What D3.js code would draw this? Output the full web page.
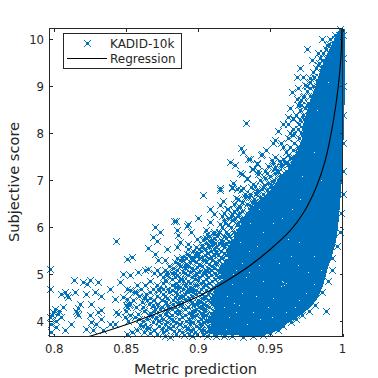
<!DOCTYPE html>
<html><head><meta charset="utf-8">
<script src="https://cdnjs.cloudflare.com/ajax/libs/d3/7.8.5/d3.min.js"></script>
<style>html,body{margin:0;padding:0;background:#fff}svg{display:block}text{font-family:"DejaVu Sans",sans-serif;fill:#262626}</style>
</head><body><svg id="c" width="378" height="378"></svg>
<script>
// Values. The reference has about 10k overlapping markers; individually
// readable ones are estimated and listed, the part where they merge into solid colour is an
// outline (denseOutline) with the small gaps visible inside it (denseGaps).
const xTicks=[0.8,0.85,0.9,0.95,1];
const yTicks=[4,5,6,7,8,9,10];
const seriesName="KADID-10k", fitName="Regression";
const denseOutline=[[.9984,10.23],[.9949,10.04],[.9894,9.70],[.9845,9.34],[.9810,8.98],[.9768,8.64],[.9734,8.28],[.9720,7.91],[.9692,7.64],[.9616,7.21],[.9498,6.79],[.9350,6.36],[.927,5.94],[.9235,5.7],[.919,5.51],[.921,5.3],[.914,5.09],[.917,4.9],[.9115,4.66],[.9085,4.45],[.912,4.23],[.906,4.05],[.91,3.9],[.905,3.76],[.913,3.72],[.9290,3.7],[.9442,3.7],[.9532,3.78],[.9588,3.9],[.9651,4.02],[.9727,4.17],[.979,4.34],[.9831,4.51],[.9866,4.77],[.9894,5.09],[.9928,5.40],[.9956,5.72],[.997,6.02],[.9991,6.79],[1.0005,7.64],[1.0015,8.7],[1.0015,10.23]];
const denseGaps=[[.9588,4.83],[.9578,4.85],[.9595,4.78],[.9570,4.75],[.9610,4.82],[.9420,5.2],[.9350,5.05],[.9300,4.6],[.9250,4.4],[.9400,4.55],[.9480,4.3],[.9520,4.5],[.9445,4.85],[.9330,4.95],[.9280,4.35],[.9380,4.2],[.9430,4.05],[.9510,4.1],[.9610,4.2],[.9670,4.3],[.9700,4.45],[.9750,4.6],[.9800,4.8],[.9760,5.05],[.9690,5.2],[.9640,5.4],[.9560,5.25],[.9700,5.7],[.9800,5.4],[.9850,5.1],[.9620,5.75],[.9520,6.1],[.9580,6.2],[.9650,6.4],[.9705,6.6],[.9720,7.1],[.9800,7.6],[.9765,7.95],[.9825,8.5],[.9900,9.1],[.9850,7.0],[.9700,6.2],[.9450,5.9],[.9410,5.6],[.9350,5.5],[.9300,5.25],[.9260,5.1],[.9230,4.8],[.9210,4.1],[.9340,3.95],[.9180,4.3],[.9200,4.55],[.9150,4.0],[.9260,4.2],[.9190,3.85],[.9240,5.0],[.9290,5.7],[.9360,6.1],[.9420,6.4]];
const sparseLow=[[.8137,4.89],[.8245,4.89],[.8303,4.84],[.8199,4.84],[.8229,4.80],[.8477,5.0],[.8454,4.84],[.8072,4.62],[.8049,4.59],[.8095,4.53],[.7968,5.12],[.7968,4.69],[.8326,4.55],[.8419,4.48],[.8222,4.59],[.8176,4.38],[.8257,4.38],[.8153,4.23],[.8164,4.13],[.85,4.34],[.85,4.23],[.7991,4.2],[.8025,4.16],[.7968,4.09],[.8014,4.02],[.8049,4.09],[.8303,4.2],[.8245,4.13],[.8257,3.99],[.8118,3.95],[.8072,3.81],[.7979,3.95],[.7979,3.77],[.8222,3.84],[.8292,3.95],[.8326,4.06],[.8384,3.95],[.8442,4.16],[.8419,3.95],[.8488,4.09],[.8269,3.81],[.8338,3.81],[.8477,4.52],[.8431,4.2],[.806,4.3],[.8002,4.27],[.8155,4.17],[.8165,4.28],[.8322,4.24],[.7985,4.13],[.8035,4.22],[.8010,3.88],[.8085,4.57],[.8145,4.62],[.8385,4.7],[.8285,4.62]];
const sparseMid=[[.8831,6.13],[.8842,6.13],[.8931,6.08],[.8919,6.04],[.8996,6.19],[.8699,6.01],[.8734,5.9],[.8688,5.79],[.8711,5.71],[.8648,5.57],[.8861,5.83],[.885,5.58],[.878,5.55],[.8873,5.69],[.8931,5.65],[.8989,5.76],[.8699,5.44],[.8537,5.38],[.8503,5.33],[.8653,5.12],[.863,5.1],[.8769,5.3],[.8722,5.3],[.8584,5.05],[.8526,4.98],[.8734,5.0],[.878,4.98],[.8873,5.3],[.8919,5.44],[.8989,5.44],[.9023,5.58],[.8954,5.3],[.8908,5.19],[.9035,5.3],[.8873,4.91],[.8977,4.98],[.8503,4.7],[.8526,4.66],[.863,4.77],[.8722,4.7],[.8792,4.7],[.885,4.73],[.863,4.52],[.8641,4.45],[.8931,4.7],[.8991,4.77],[.8503,4.31],[.8584,4.16],[.856,4.09],[.87,4.27],[.8769,4.16],[.8792,4.3],[.8861,4.38],[.8942,4.45],[.9023,4.59],[.8641,3.88],[.8722,4.02],[.8792,3.88],[.8919,3.84],[.8989,3.74],[.8803,3.67],[.8954,4.16],[.9035,4.16],[.8885,4.09],[.8514,4.02],[.8595,3.92],[.8537,3.77],[.843,5.71],[.8625,4.5],[.8635,4.58],[.8610,4.42],[.8505,4.48],[.8520,4.35],[.8555,4.62],[.8765,4.88],[.8840,5.02],[.8895,4.85],[.8960,4.62],[.9000,4.88],[.8990,5.15],[.9045,5.02],[.8930,5.55],[.9010,5.2],[.9045,4.78],[.8835,4.52],[.8890,4.55],[.8925,4.3],[.9,4.4],[.9045,4.5],[.8840,4.2],[.8815,4.05],[.8870,3.95],[.8945,4.02],[.9010,3.95],[.9050,4.02],[.9020,4.28],[.8975,4.22],[.8905,4.48],[.8680,4.12],[.8745,3.85],[.8830,3.8],[.8960,3.85],[.9040,3.82],[.8665,3.75],[.8900,3.72],[.9060,3.7],[.9000,5.42],[.9060,5.45],[.9070,5.62],[.9040,5.75],[.8950,5.9],[.9050,5.95],[.9100,5.7],[.9110,5.85],[.9120,5.5],[.8855,5.95]];
const sparseHigh=[[.922,7.39],[.9255,7.32],[.9313,7.6],[.9359,7.46],[.9405,7.35],[.944,7.57],[.951,7.43],[.9301,7.14],[.9382,7.25],[.9417,7.14],[.9463,7.21],[.9533,7.28],[.9336,7.03],[.9382,6.93],[.9232,6.86],[.9267,6.82],[.9151,6.79],[.9035,6.68],[.9325,6.72],[.9348,6.65],[.944,6.82],[.951,6.98],[.9556,7.03],[.9174,6.57],[.9081,6.4],[.9151,6.47],[.929,6.43],[.944,6.61],[.9105,6.29],[.9162,6.25],[.9232,6.29],[.9359,6.4],[.9081,6.11],[.9151,6.08],[.9243,6.15],[.9058,5.87],[.9329,8.22],[.9294,7.69],[.9345,7.45],[.9433,7.55],[.947,7.64],[.9517,7.79],[.9533,7.85],[.9554,8.06],[.9589,8.19],[.9623,8.34],[.9637,8.53],[.9685,8.74],[.965,8.87],[.9685,9.19],[.9727,9.19],[.9706,9.38],[.9789,9.55],[.9831,9.7],[.9755,9.79],[.9859,10.0],[.9894,9.87],[.9984,10.22],[.9637,8.0],[.9658,7.96],[.9692,8.1],[.9658,8.32],[.9706,8.28],[.9741,8.53],[.9692,8.6],[.9762,8.64],[.9727,8.77],[.9741,9.02],[.9776,8.96],[.9692,8.96],[.9797,9.3],[.9776,9.17],[.9831,9.45],[.9866,9.55],[.9637,7.47],[.9658,7.64],[.9692,7.7],[.9589,7.7],[.9568,7.42],[.9603,7.36],[.9554,7.17],[.9519,7.36],[.9623,7.15],[.9477,7.15],[.9415,7.21],[.941,7.36],[.9373,7.25],[.9338,7.06],[.929,7.15],[.924,6.94],[.9233,6.83],[.915,6.83],[.9394,6.89],[.931,6.83],[.9498,6.85],[.9554,7.0],[.93,6.55],[.925,6.5],[.92,6.4],[.918,6.15],[.926,6.62],[.94,6.72],[.937,6.55]];
const edgeLow=[[.9885,4.22],[.981,4.35],[.977,4.22],[.972,4.13],[.968,4.05],[.964,3.98],[.959,3.9],[.9555,3.82],[.95,3.76],[.945,3.72],[.938,3.7],[.931,3.68],[.923,3.7],[.986,4.62],[.99,4.85],[.9925,5.1],[.993,5.35],[.996,5.6],[.9985,5.9],[.999,6.3],[1,6.7],[1,7.2],[1,7.8],[1,8.4],[1,9],[1,9.6],[1,10.1]];
const mottledRows=[[5.9,[.9105,.9145,.919,.9245,.928,.934,.939]],[5.82,[.9075,.913,.9175,.9215,.9265,.931,.9365,.9415]],[5.74,[.9035,.909,.916,.9235,.9295,.935]],[5.66,[.9055,.9115,.9145,.9195,.9255,.9335,.9225]],[5.58,[.8985,.9075,.9125,.918,.9215,.9275,.931]],[5.5,[.8965,.9015,.9085,.9155,.9235,.9295]],[5.42,[.8935,.8975,.9045,.9105,.9135,.9195,.9245]],[5.34,[.8855,.8915,.9005,.9075,.9165,.9215,.9255]],[5.26,[.8835,.8945,.8985,.9055,.9115,.9185,.9235]],[5.18,[.8795,.8875,.8925,.9025,.9095,.9155,.9215]],[5.1,[.8715,.8765,.8855,.8965,.9045,.9085,.9135,.9195]],[5.02,[.8695,.8815,.8905,.8985,.9035,.9115,.9175]],[4.94,[.8755,.8835,.8955,.9005,.9065,.9135,.9155]],[4.86,[.8665,.8775,.8865,.8925,.9035,.9095,.9165]],[4.78,[.8575,.8715,.8815,.8905,.8975,.9055,.9125]],[4.7,[.8605,.8685,.8755,.8895,.8965,.9015,.9085,.9145]],[4.62,[.8565,.8665,.8795,.8845,.8925,.9005,.9075,.9125]],[4.54,[.8585,.8715,.8765,.8875,.8955,.9045,.9105]],[4.46,[.8545,.8695,.8745,.8825,.8915,.8995,.9065,.9135]],[4.38,[.8525,.8655,.8715,.8825,.8885,.8975,.9035,.9095]],[4.3,[.8565,.8615,.8745,.8835,.8925,.9005,.9075,.9115]],[4.22,[.8625,.8695,.8785,.8865,.8955,.9045,.9105]],[4.14,[.8525,.8655,.8735,.8815,.8905,.8985,.9055,.9125]],[4.06,[.8585,.8645,.8755,.8865,.8935,.9015,.9095]],[3.98,[.8685,.8785,.8845,.8965,.9035,.9105,.9155]],[3.9,[.8615,.8725,.8825,.8905,.8985,.9065,.9125]],[3.82,[.8575,.8695,.8775,.8865,.8945,.9015,.9095,.9165]],[3.74,[.8505,.8715,.8845,.8935,.9035,.9105,.9185]]];
const mottledRows2=[[5.86,[.9135,.9205,.9255,.9325]],[5.78,[.9055,.9105,.9195,.9275]],[5.7,[.9085,.9165,.9215,.9305]],[5.62,[.9025,.9095,.9165,.9245]],[5.54,[.9005,.9045,.9105,.9205,.9265]],[5.46,[.8995,.9065,.9125,.9175]],[5.38,[.8885,.8955,.9025,.9085,.9155]],[5.3,[.8895,.8965,.9045,.9095,.9145,.9195]],[5.22,[.8865,.8915,.9005,.9075,.9125,.9165]],[5.14,[.8825,.8905,.8955,.9065,.9105,.9175]],[5.06,[.8785,.8895,.8945,.9005,.9075,.9145]],[4.98,[.8855,.8925,.9025,.9085,.9125]],[4.9,[.8815,.8885,.8975,.9055,.9115]],[4.82,[.8755,.8845,.8945,.9015,.9075,.9135]],[4.74,[.8835,.8875,.8945,.9035,.9105]],[4.66,[.8725,.8815,.8935,.8985,.9055,.9115]],[4.58,[.8755,.8855,.8905,.8985,.9065,.9135]],[4.5,[.8665,.8785,.8865,.8935,.9025,.9085]],[4.42,[.8775,.8865,.8955,.9015,.9085,.9125]],[4.34,[.8685,.8785,.8875,.8965,.9055,.9105]],[4.26,[.8735,.8815,.8905,.8985,.9045,.9125]],[4.18,[.8665,.8775,.8865,.8935,.9015,.9085]],[4.1,[.8705,.8795,.8885,.8955,.9035,.9105]],[4.02,[.8615,.8725,.8825,.8915,.8995,.9075,.9135]],[3.94,[.8765,.8865,.8945,.9025,.9095]],[3.86,[.8655,.8805,.8925,.9005,.9075,.9145]],[3.78,[.8625,.8755,.8885,.8975,.9055,.9135]],[3.7,[.8765,.8955,.9125,.9175]]];
const fringeRows=[[6,[.9165,.9225,.9295,.9345,.9395]],[6.1,[.9185,.9275,.9325,.9375,.9425]],[6.2,[.9205,.9255,.9305,.9365,.9415,.9465]],[6.3,[.9175,.9285,.9335,.9395,.9445,.9485]],[6.4,[.9205,.9265,.9395,.9435,.9475,.9515]],[6.5,[.9335,.9415,.9455,.9525,.9565]],[6.6,[.9275,.9385,.9475,.9515,.9555,.9595]],[6.7,[.9355,.9445,.9535,.9575,.9605]],[6.8,[.9295,.9405,.9475,.9555,.9625]],[6.9,[.9455,.9505,.9585,.9625,.9655]],[7,[.9425,.9525,.9605,.9655,.9675]],[7.1,[.9495,.9565,.9635,.9685]],[7.2,[.9555,.9605,.9665,.9705]],[7.3,[.9485,.9575,.9645,.9695]],[7.4,[.9615,.9675,.9715]],[7.5,[.9535,.9655,.9705]],[7.6,[.9605,.9685,.9735]],[7.8,[.9575,.9665,.9715,.9745]],[7.9,[.9625,.9695,.9735]],[8,[.9665,.9715,.9745]],[8.2,[.9625,.9695,.9735]],[8.4,[.9675,.9725,.9765]],[8.6,[.9715,.9755,.9785]],[8.8,[.9735,.9775,.9805]],[9,[.9755,.9795,.9825]],[9.2,[.9805,.9835]],[9.4,[.9815,.9855]],[9.6,[.9845,.9885]],[9.8,[.9885,.9925]],[10,[.9915,.9945]]];
const fringeRows2=[[6.05,[.9205,.9265,.9315,.9365]],[6.15,[.9235,.9295,.9345,.9395,.9445]],[6.25,[.9225,.9275,.9355,.9425]],[6.35,[.9245,.9305,.9365,.9415,.9465]],[6.45,[.9285,.9365,.9435,.9495]],[6.55,[.9385,.9445,.9505,.9545]],[6.65,[.9325,.9425,.9495,.9535,.9575]],[6.75,[.9405,.9485,.9555,.9595]],[6.85,[.9365,.9445,.9525,.9595,.9645]],[6.95,[.9485,.9545,.9615,.9665]],[7.05,[.9465,.9585,.9645,.9695]],[7.15,[.9535,.9595,.9655]],[7.25,[.9525,.9635,.9685]],[7.35,[.9575,.9625,.9685]],[7.45,[.9585,.9655,.9715]],[7.55,[.9625,.9695]],[7.7,[.9635,.9695,.9735]],[8.1,[.9655,.9725]],[8.3,[.9655,.9735]],[8.5,[.9705,.9775]],[8.7,[.9715,.9795]],[8.9,[.9755,.9815]],[9.1,[.9775,.9825]],[9.3,[.9795,.9855]],[9.5,[.9835,.9875]],[9.7,[.9865,.9905]],[9.9,[.9905,.9945]],[10.1,[.9945,.9975]]];
const fitCurve=[[.8241,3.68],[.8547,3.985],[.8942,4.45],[.9081,4.66],[.922,4.91],[.9359,5.19],[.9498,5.53],[.9637,5.93],[.9727,6.3],[.9817,6.85],[.988,7.42],[.9936,8.25],[.997,8.98],[.9989,9.62],[.9996,10.23]];

const m={l:49.5,r:342.5,t:28.5,b:336.5};
const x=d3.scaleLinear().domain([0.7967,1.0]).range([m.l,m.r]);
const y=d3.scaleLinear().domain([3.68,10.23]).range([m.b,m.t]);
const svg=d3.select("#c");
const blue="#0072BD",ink="#262626";
// pixel pattern of one marker, stepped like the reference's aliased X
const crossPixels=[[0,0],[1,0],[-1,0],[0,1],[0,-1],[1,1],[-1,-1],[1,-1],[-1,1],[2,2],[-2,-2],[2,-2],[-2,2],[3,3],[-3,-3],[3,-3],[-3,3]];
function crossPath(px,py){const cx=Math.round(px),cy=Math.round(py);return crossPixels.map(([a,b])=>`M${cx+a},${cy+b}h1v1h-1z`).join("");}
const marks=svg.append("g");
marks.append("path").attr("d",d3.line().x(d=>x(d[0])).y(d=>y(d[1]))(denseOutline)+"Z").attr("fill",blue).attr("shape-rendering","crispEdges");
marks.selectAll("rect.gap").data(denseGaps).join("rect").attr("class","gap").attr("x",d=>Math.round(x(d[0]))).attr("y",d=>Math.round(y(d[1]))).attr("width",1).attr("height",1).attr("fill","#fff");
const rowPts=r=>r.flatMap(([v,xs])=>xs.map(u=>[u,v]));
const pts=[...sparseLow,...sparseMid,...sparseHigh,...edgeLow,...rowPts(mottledRows),...rowPts(mottledRows2),...rowPts(fringeRows),...rowPts(fringeRows2)];
marks.append("path").attr("d",pts.map(d=>crossPath(x(d[0]),y(d[1]))).join("")).attr("fill",blue).attr("shape-rendering","crispEdges");
svg.append("path").attr("d",d3.line().x(d=>x(d[0])).y(d=>y(d[1])).curve(d3.curveCatmullRom)(fitCurve)).attr("fill","none").attr("stroke","#000").attr("stroke-width",1.1);
const ax=svg.append("g").attr("stroke",ink).attr("shape-rendering","crispEdges").attr("fill","none");
ax.append("rect").attr("x",m.l).attr("y",m.t).attr("width",m.r-m.l).attr("height",m.b-m.t);
const L=3;
xTicks.forEach(t=>{const p=Math.round(x(t))+.5;ax.append("path").attr("d",`M${p},${m.b}v${-L}M${p},${m.t}v${L}`);});
yTicks.forEach(t=>{const p=Math.round(y(t))+.5;ax.append("path").attr("d",`M${m.l},${p}h${L}M${m.r},${p}h${-L}`);});
svg.append("g").selectAll("text").data(xTicks).join("text").attr("x",d=>x(d)).attr("y",353).attr("text-anchor","middle").attr("font-size",11.7).text(d=>d3.format("~g")(d));
svg.append("g").selectAll("text").data(yTicks).join("text").attr("x",44).attr("y",d=>y(d)+4.5).attr("text-anchor","end").attr("font-size",11.7).text(d=>d);
svg.append("text").attr("x",195.5).attr("y",374).attr("text-anchor","middle").attr("font-size",14.6).text("Metric prediction");
svg.append("text").attr("transform","translate(19,182) rotate(-90)").attr("text-anchor","middle").attr("font-size",14.6).text("Subjective score");
const lg=svg.append("g");
lg.append("rect").attr("x",63.5).attr("y",33.5).attr("width",118).attr("height",35).attr("fill","#fff").attr("stroke",ink).attr("shape-rendering","crispEdges");
lg.append("path").attr("d",crossPath(87,43)).attr("fill",blue).attr("shape-rendering","crispEdges");
lg.append("line").attr("x1",67).attr("x2",107).attr("y1",58.5).attr("y2",58.5).attr("stroke","#000").attr("shape-rendering","crispEdges");
lg.append("text").attr("x",110).attr("y",47.5).attr("font-size",12).text(seriesName);
lg.append("text").attr("x",110).attr("y",63).attr("font-size",12).text(fitName);
</script></body></html>
